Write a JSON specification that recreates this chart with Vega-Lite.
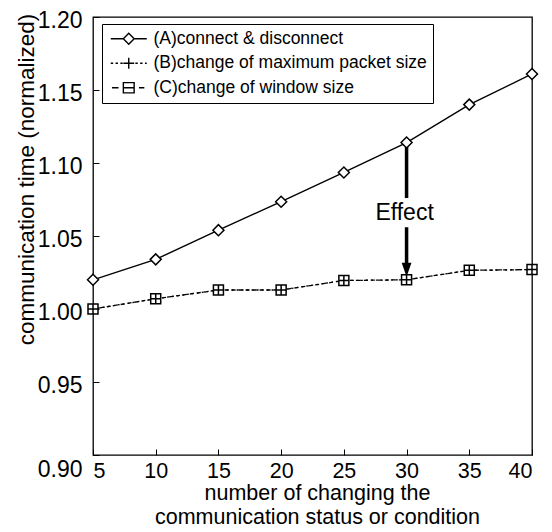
{
  "$schema": "https://vega.github.io/schema/vega-lite/v6.json",
  "width": 439,
  "height": 438,
  "autosize": {"type": "none"},
  "padding": {"left": 93, "top": 17, "right": 20, "bottom": 77},
  "background": "white",
  "config": {
    "font": "Liberation Sans",
    "view": {"stroke": "black", "strokeWidth": 1.3},
    "axis": {"grid": false, "domain": false, "tickColor": "black", "labelColor": "black", "titleColor": "black", "titleFontWeight": "normal", "labelFont": "Liberation Sans", "titleFont": "Liberation Sans"},
    "legend": {"labelFont": "Liberation Sans"}
  },
  "datasets": {
    "series": [
      {"x": 5, "y": 1.020, "s": "(A)connect & disconnect"},
      {"x": 10, "y": 1.034, "s": "(A)connect & disconnect"},
      {"x": 15, "y": 1.054, "s": "(A)connect & disconnect"},
      {"x": 20, "y": 1.0735, "s": "(A)connect & disconnect"},
      {"x": 25, "y": 1.0935, "s": "(A)connect & disconnect"},
      {"x": 30, "y": 1.114, "s": "(A)connect & disconnect"},
      {"x": 35, "y": 1.140, "s": "(A)connect & disconnect"},
      {"x": 40, "y": 1.161, "s": "(A)connect & disconnect"},
      {"x": 5, "y": 1.000, "s": "(B)change of maximum packet size"},
      {"x": 10, "y": 1.007, "s": "(B)change of maximum packet size"},
      {"x": 15, "y": 1.013, "s": "(B)change of maximum packet size"},
      {"x": 20, "y": 1.013, "s": "(B)change of maximum packet size"},
      {"x": 25, "y": 1.0195, "s": "(B)change of maximum packet size"},
      {"x": 30, "y": 1.020, "s": "(B)change of maximum packet size"},
      {"x": 35, "y": 1.0265, "s": "(B)change of maximum packet size"},
      {"x": 40, "y": 1.027, "s": "(B)change of maximum packet size"},
      {"x": 5, "y": 1.000, "s": "(C)change of window size"},
      {"x": 10, "y": 1.007, "s": "(C)change of window size"},
      {"x": 15, "y": 1.013, "s": "(C)change of window size"},
      {"x": 20, "y": 1.013, "s": "(C)change of window size"},
      {"x": 25, "y": 1.0195, "s": "(C)change of window size"},
      {"x": 30, "y": 1.020, "s": "(C)change of window size"},
      {"x": 35, "y": 1.0265, "s": "(C)change of window size"},
      {"x": 40, "y": 1.027, "s": "(C)change of window size"}
    ],
    "arrow": [
      {"x": 30, "y": 1.111, "y2": 1.076},
      {"x": 30, "y": 1.056, "y2": 1.031}
    ],
    "head": [{"x": 30, "y": 1.0268}],
    "label": [{"x": 30, "y": 1.0658, "text": "Effect"}]
  },
  "layer": [
    {
      "data": {"name": "series"},
      "transform": [{"filter": "datum.s == '(A)connect & disconnect'"}],
      "mark": {"type": "line", "color": "black", "strokeWidth": 1.4},
      "encoding": {
        "x": {"field": "x", "type": "quantitative", "scale": {"domain": [5, 40], "nice": false},
          "axis": {"values": [5, 10, 15, 20, 25, 30, 35, 40], "tickSize": -6, "labelFlush": true, "labelFontSize": 21.5, "labelPadding": 11, "labelBaseline": "top",
            "title": ["number of changing the", "communication status or condition"], "titleFontSize": 21.5, "titleLineHeight": 24, "titleX": 224, "titleY": 27, "titleBaseline": "top", "titleAnchor": null}},
        "y": {"field": "y", "type": "quantitative", "scale": {"domain": [0.9, 1.2], "nice": false, "zero": false},
          "axis": {"values": [0.9, 0.95, 1.0, 1.05, 1.1, 1.15, 1.2], "format": ".2f", "tickSize": -6, "labelFontSize": 23, "labelPadding": 17, "labelOffset": 3,
            "labelBaseline": {"condition": {"test": "datum.value <= 0.9", "value": "top"}, "value": "middle"},
            "title": "communication time (normalized)", "titleFontSize": 22.5, "titleX": -67, "titleY": 162, "titleAngle": -90, "titleAlign": "center", "titleBaseline": "middle", "titleAnchor": null}}
      }
    },
    {
      "data": {"name": "series"},
      "transform": [{"filter": "datum.s == '(B)change of maximum packet size'"}],
      "mark": {"type": "line", "color": "black", "strokeWidth": 1.3, "strokeDash": [2, 3]},
      "encoding": {"x": {"field": "x", "type": "quantitative"}, "y": {"field": "y", "type": "quantitative"}}
    },
    {
      "data": {"name": "series"},
      "transform": [{"filter": "datum.s == '(C)change of window size'"}],
      "mark": {"type": "line", "color": "black", "strokeWidth": 1.3, "strokeDash": [4, 3]},
      "encoding": {"x": {"field": "x", "type": "quantitative"}, "y": {"field": "y", "type": "quantitative"}}
    },
    {
      "data": {"name": "series"},
      "transform": [{"filter": "datum.s == '(A)connect & disconnect'"}],
      "mark": {"type": "point", "shape": "diamond", "size": 121, "filled": false, "fill": "white", "fillOpacity": 1, "stroke": "black", "strokeWidth": 1.5, "opacity": 1},
      "encoding": {"x": {"field": "x", "type": "quantitative"}, "y": {"field": "y", "type": "quantitative"}}
    },
    {
      "data": {"name": "series"},
      "transform": [{"filter": "datum.s == '(C)change of window size'"}],
      "mark": {"type": "point", "shape": "square", "size": 100, "filled": false, "fill": "white", "fillOpacity": 1, "stroke": "black", "strokeWidth": 1.5, "opacity": 1},
      "encoding": {"x": {"field": "x", "type": "quantitative"}, "y": {"field": "y", "type": "quantitative"}}
    },
    {
      "data": {"name": "series"},
      "transform": [{"filter": "datum.s == '(B)change of maximum packet size'"}],
      "mark": {"type": "point", "shape": "M-1,0H1M0,-1V1", "size": 100, "filled": false, "stroke": "black", "strokeWidth": 1.5, "opacity": 1},
      "encoding": {"x": {"field": "x", "type": "quantitative"}, "y": {"field": "y", "type": "quantitative"}}
    },
    {
      "data": {"name": "series"},
      "mark": {"type": "point", "opacity": 0, "filled": false},
      "encoding": {
        "x": {"field": "x", "type": "quantitative"},
        "y": {"field": "y", "type": "quantitative"},
        "shape": {"field": "s", "type": "nominal",
          "scale": {"domain": ["(A)connect & disconnect", "(B)change of maximum packet size", "(C)change of window size"],
            "range": [
              "M-1,0H1.1M2.9,0H5M1.1,0L2,-0.9L2.9,0L2,0.9Z",
              "M-1,0H-0.6M-0.2,0H0.2M0.6,0H1M1.1,0H2.9M2,-0.9V0.9M3.1,0H3.5M3.9,0H4.3M4.7,0H5",
              "M-0.8,0H0.3M1.1,-0.85H2.9V0.85H1.1ZM1.1,0H2.9M3.7,0H4.6"
            ]},
          "legend": {"orient": "none", "legendX": 9, "legendY": 7, "title": null, "strokeColor": "black", "fillColor": "white", "padding": 6,
            "labelFontSize": 17.5, "labelOffset": 28, "rowPadding": 5.5, "symbolSize": 144, "symbolStrokeWidth": 1.4, "symbolStrokeColor": "black",
            "symbolFillColor": "white", "symbolOpacity": 1, "labelLimit": 0, "labelColor": "black"}
        }
      }
    },
    {
      "data": {"name": "arrow"},
      "mark": {"type": "rule", "color": "black", "strokeWidth": 3.5},
      "encoding": {"x": {"field": "x", "type": "quantitative"}, "y": {"field": "y", "type": "quantitative"}, "y2": {"field": "y2"}}
    },
    {
      "data": {"name": "head"},
      "mark": {"type": "point", "shape": "M-0.7,-1H0.7L0,1Z", "size": 196, "filled": true, "color": "black", "opacity": 1},
      "encoding": {"x": {"field": "x", "type": "quantitative"}, "y": {"field": "y", "type": "quantitative"}}
    },
    {
      "data": {"name": "label"},
      "mark": {"type": "text", "fontSize": 23, "font": "Liberation Sans", "color": "black", "dx": -2},
      "encoding": {"x": {"field": "x", "type": "quantitative"}, "y": {"field": "y", "type": "quantitative"}, "text": {"field": "text"}}
    }
  ]
}
